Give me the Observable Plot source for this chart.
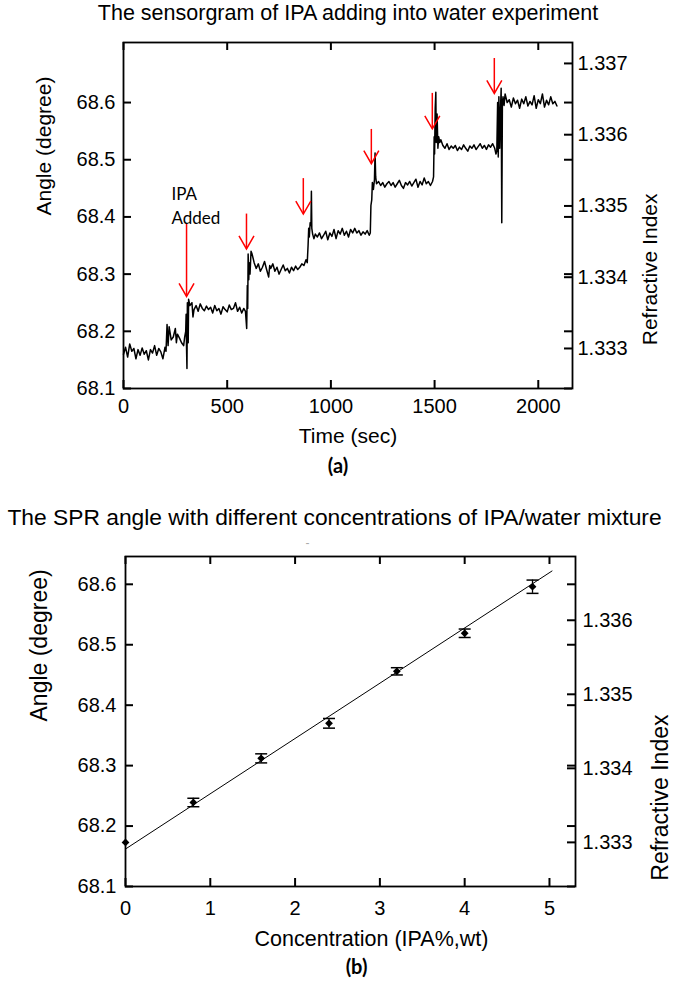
<!DOCTYPE html>
<html><head><meta charset="utf-8">
<script src="https://cdn.jsdelivr.net/npm/d3@7"></script>
<script src="https://cdn.jsdelivr.net/npm/@observablehq/plot@0.6"></script>
<style>body{margin:0;background:#fff} #chart svg{display:block}</style>
</head><body><div id="chart"></div>
<script>
// ---------- Chart (a) data ----------
const titleA = "The sensorgram of IPA adding into water experiment";
const xLabelA = "Time (sec)";
const yLabel = "Angle (degree)";
const y2Label = "Refractive Index";
const captionA = "(a)";
const xDomainA = [0, 2165];
const yDomainA = [68.1, 68.705];
const xTicksA = [0, 500, 1000, 1500, 2000];
const angleTicks = [68.1, 68.2, 68.3, 68.4, 68.5, 68.6];
const riTicksA = [1.333, 1.334, 1.335, 1.336, 1.337];
const riBaseAngleA = 68.170;   // angle aligned with 1.333 on the right axis
const riStepAngleA = 0.1246;   // angle span of 0.001 RI
const sensorgram = [
[0,68.160],[10,68.172],[20,68.155],[30,68.178],[40,68.165],[50,68.170],[60,68.152],[70,68.168],[80,68.158],[90,68.171],
[100,68.160],[110,68.166],[120,68.150],[130,68.168],[140,68.162],[150,68.175],[160,68.158],[170,68.170],[180,68.164],[190,68.152],
[200,68.172],[205,68.165],[210,68.212],[215,68.175],[220,68.208],[230,68.185],[240,68.190],[250,68.205],[255,68.180],[260,68.195],
[270,68.188],[280,68.180],[290,68.175],[295,68.190],[300,68.200],[302,68.230],[304,68.170],[306,68.135],[308,68.250],[312,68.180],
[314,68.256],[320,68.245],[330,68.250],[335,68.225],[340,68.238],[350,68.245],[360,68.235],[370,68.248],[380,68.240],[390,68.236],
[400,68.244],[410,68.238],[420,68.242],[430,68.232],[440,68.245],[450,68.236],[460,68.240],[470,68.230],[480,68.243],[490,68.238],
[500,68.234],[510,68.246],[520,68.238],[530,68.240],[540,68.250],[550,68.235],[560,68.242],[570,68.232],[580,68.240],[588,68.235],
[594,68.205],[597,68.280],[599,68.240],[601,68.335],[604,68.290],[606,68.320],[610,68.300],[615,68.340],[620,68.335],[630,68.320],
[640,68.310],[650,68.318],[660,68.305],[670,68.312],[680,68.322],[690,68.308],[700,68.295],[705,68.315],[710,68.310],[720,68.318],
[730,68.305],[740,68.312],[750,68.300],[760,68.308],[770,68.316],[780,68.306],[790,68.310],[800,68.302],[810,68.312],[820,68.306],
[830,68.314],[840,68.308],[850,68.312],[860,68.318],[870,68.315],[880,68.325],[886,68.320],[890,68.350],[893,68.380],[896,68.365],
[900,68.390],[904,68.385],[906,68.445],[908,68.380],[912,68.370],[918,68.362],[925,68.370],[935,68.365],[945,68.372],[955,68.362],
[965,68.368],[975,68.375],[985,68.360],[995,68.372],[1005,68.366],[1015,68.378],[1025,68.362],[1035,68.376],[1045,68.370],[1055,68.380],
[1065,68.368],[1075,68.375],[1085,68.365],[1095,68.378],[1105,68.372],[1115,68.380],[1125,68.372],[1135,68.376],[1145,68.368],[1155,68.374],
[1165,68.370],[1175,68.376],[1185,68.368],[1190,68.372],[1193,68.420],[1197,68.430],[1200,68.460],[1205,68.448],[1210,68.465],[1213,68.512],
[1216,68.470],[1220,68.458],[1230,68.462],[1240,68.455],[1250,68.460],[1260,68.452],[1270,68.458],[1280,68.462],[1290,68.455],[1300,68.460],
[1310,68.452],[1320,68.458],[1330,68.464],[1340,68.455],[1350,68.450],[1360,68.460],[1370,68.456],[1380,68.462],[1390,68.454],[1400,68.460],
[1410,68.466],[1420,68.452],[1430,68.462],[1440,68.456],[1450,68.468],[1460,68.458],[1470,68.462],[1480,68.455],[1490,68.462],[1495,68.470],
[1498,68.540],[1500,68.510],[1503,68.590],[1506,68.618],[1508,68.530],[1512,68.580],[1516,68.520],[1520,68.540],[1525,68.530],[1530,68.535],
[1540,68.525],[1550,68.520],[1560,68.528],[1570,68.518],[1580,68.524],[1590,68.520],[1600,68.525],[1610,68.516],[1620,68.522],[1630,68.518],
[1640,68.526],[1650,68.520],[1660,68.515],[1670,68.524],[1680,68.520],[1690,68.526],[1700,68.518],[1710,68.523],[1720,68.528],[1730,68.520],
[1740,68.525],[1750,68.518],[1760,68.526],[1770,68.522],[1780,68.528],[1790,68.520],[1796,68.510],[1800,68.515],[1804,68.600],[1807,68.505],
[1810,68.610],[1814,68.520],[1818,68.590],[1821,68.625],[1824,68.390],[1827,68.600],[1830,68.610],[1835,68.595],[1840,68.615],[1850,68.600],
[1860,68.605],[1870,68.592],[1880,68.608],[1890,68.598],[1900,68.604],[1910,68.590],[1920,68.606],[1930,68.598],[1940,68.610],[1950,68.594],
[1960,68.602],[1970,68.596],[1980,68.612],[1990,68.590],[2000,68.605],[2010,68.598],[2020,68.615],[2030,68.592],[2040,68.604],[2050,68.596],
[2060,68.610],[2070,68.598],[2080,68.602],[2090,68.594]
];
const arrowT   = [304, 593, 867, 1195, 1489, 1788];
const arrowTop = [68.388, 68.405, 68.467, 68.553, 68.616, 68.677];
const arrowTip = [68.261, 68.344, 68.405, 68.493, 68.554, 68.616];
const annotation = {t: 231, angle: 68.46, text: "IPA\nAdded"};

// ---------- Chart (b) data ----------
const titleB = "The SPR angle with different concentrations of IPA/water mixture";
const xLabelB = "Concentration (IPA%,wt)";
const captionB = "(b)";
const xDomainB = [0, 5.307];
const yDomainB = [68.1, 68.646];
const xTicksB = [0, 1, 2, 3, 4, 5];
const riTicksB = [1.333, 1.334, 1.335, 1.336];
const riBaseAngleB = 68.173;
const riStepAngleB = 0.1225;
const conc   = [0, 0.8, 1.6, 2.4, 3.2, 4.0, 4.8];
const angleB = [68.173, 68.239, 68.312, 68.370, 68.456, 68.519, 68.596];
const errB   = [0, 0.007, 0.0075, 0.008, 0.006, 0.007, 0.011];
const fitC     = [0, 5.03];
const fitAngle = [68.162, 68.622];

// ---------- helpers ----------
const font = "'Liberation Sans', Arial, Helvetica, sans-serif";
const capFont = "Lato, 'Noto Sans', sans-serif";
const fmt1 = d3.format(".1f");
const fmt3 = d3.format(".3f");
const TL = 8;
const vee = {draw(ctx) { ctx.moveTo(-7.5, -13); ctx.lineTo(0, 0); ctx.lineTo(7.5, -13); }};
const cap = {draw(ctx) { ctx.moveTo(-6, 0); ctx.lineTo(6, 0); }};

// inward tick marks on all four sides of the frame
function frameTicks(xTicks, yTicks, y2Ticks, plotW, plotH) {
  const s = {stroke: "#000", strokeWidth: 2};
  return [
    Plot.tickX(xTicks, {x: d => d, insetTop: plotH - TL, ...s}),
    Plot.tickX(xTicks, {x: d => d, insetBottom: plotH - TL, ...s}),
    Plot.tickY(yTicks, {y: d => d, insetRight: plotW - TL, ...s}),
    Plot.tickY(yTicks, {y: d => d, insetLeft: plotW - TL, ...s}),
    Plot.tickY(y2Ticks, {y: d => d, insetLeft: plotW - TL, ...s})
  ];
}

const riToA = ri => riBaseAngleA + (ri - riTicksA[0]) / 0.001 * riStepAngleA;
const aToRiA = a => riTicksA[0] + (a - riBaseAngleA) / riStepAngleA * 0.001;
const riToB = ri => riBaseAngleB + (ri - riTicksB[0]) / 0.001 * riStepAngleB;
const aToRiB = a => riTicksB[0] + (a - riBaseAngleB) / riStepAngleB * 0.001;

const arrowsA = arrowT.map((t, i) => ({t, top: arrowTop[i], tip: arrowTip[i]}));
const lineA = sensorgram.map(([t, a]) => ({t, a}));
const riAnglesA = riTicksA.map(riToA);

const WA = 675, HA = 490, mA = {t: 42, b: 102, l: 123, r: 103};
const plotA = Plot.plot({
  width: WA, height: HA,
  marginTop: mA.t, marginBottom: mA.b, marginLeft: mA.l, marginRight: mA.r,
  style: {fontFamily: font, fontSize: "20px", color: "#000", background: "#fff", overflow: "visible"},
  x: {domain: xDomainA},
  y: {domain: yDomainA},
  marks: [
    Plot.axisX({ticks: xTicksA, tickSize: 0, tickPadding: 10, tickFormat: d => String(d), label: null, fontSize: 20}),
    Plot.axisY({ticks: angleTicks, tickSize: 0, tickPadding: 8, tickFormat: fmt1, label: null, fontSize: 20}),
    Plot.axisY({anchor: "right", ticks: riAnglesA, tickSize: 0, tickPadding: 5, tickFormat: d => fmt3(aToRiA(d)), label: null, fontSize: 20}),
    Plot.frame({stroke: "#000", strokeWidth: 1.8}),
    ...frameTicks(xTicksA, angleTicks, riAnglesA, WA - mA.l - mA.r, HA - mA.t - mA.b),
    Plot.line(lineA, {x: "t", y: "a", stroke: "#000", strokeWidth: 1.5}),
    Plot.ruleX(arrowsA, {x: "t", y1: "top", y2: "tip", stroke: "#ff0000", strokeWidth: 1.5}),
    Plot.dot(arrowsA, {x: "t", y: "tip", symbol: vee, r: 5, stroke: "#ff0000", fill: "none", strokeWidth: 1.5}),
    Plot.text([annotation], {x: "t", y: "angle", text: "text", textAnchor: "start", lineAnchor: "top", lineHeight: 1.41, fontFamily: capFont, fontSize: 17, fill: "#000"}),
    Plot.text([titleA], {text: d => d, frameAnchor: "top", dy: -22.5, lineAnchor: "bottom", fontSize: 21.5}),
    Plot.text([yLabel], {text: d => d, frameAnchor: "left", rotate: -90, dx: -87, lineAnchor: "top", fontSize: 21}),
    Plot.text([y2Label], {text: d => d, frameAnchor: "right", rotate: -90, dx: 84, dy: -22, lineAnchor: "bottom", fontSize: 21}),
    Plot.text([xLabelA], {text: d => d, frameAnchor: "bottom", dy: 40, lineAnchor: "top", fontSize: 21}),
    Plot.text([captionA], {text: d => d, frameAnchor: "bottom", dx: -10, dy: 78, lineAnchor: "middle", fontFamily: capFont, fontWeight: "bold", fontSize: 20})
  ]
});

const ptsB = conc.map((c, i) => ({c, a: angleB[i], e: errB[i]}));
const barsB = ptsB.filter(d => d.e > 0);
const capsB = barsB.flatMap(d => [{c: d.c, a: d.a - d.e}, {c: d.c, a: d.a + d.e}]);
const fitB = fitC.map((c, i) => ({c, a: fitAngle[i]}));
const riAnglesB = riTicksB.map(riToB);

const WB = 675, HB = 495, mB = {t: 66, b: 99, l: 125, r: 100};
const plotB = Plot.plot({
  width: WB, height: HB,
  marginTop: mB.t, marginBottom: mB.b, marginLeft: mB.l, marginRight: mB.r,
  style: {fontFamily: font, fontSize: "20px", color: "#000", background: "#fff", overflow: "visible"},
  x: {domain: xDomainB},
  y: {domain: yDomainB},
  marks: [
    Plot.axisX({ticks: xTicksB, tickSize: 0, tickPadding: 14, tickFormat: d => String(d), label: null, fontSize: 20}),
    Plot.axisY({ticks: angleTicks, tickSize: 0, tickPadding: 9, tickFormat: fmt1, label: null, fontSize: 20}),
    Plot.axisY({anchor: "right", ticks: riAnglesB, tickSize: 0, tickPadding: 7, tickFormat: d => fmt3(aToRiB(d)), label: null, fontSize: 20}),
    Plot.frame({stroke: "#000", strokeWidth: 1.8}),
    ...frameTicks(xTicksB, angleTicks, riAnglesB, WB - mB.l - mB.r, HB - mB.t - mB.b),
    Plot.line(fitB, {x: "c", y: "a", stroke: "#000", strokeWidth: 1}),
    Plot.ruleX(barsB, {x: "c", y1: d => d.a - d.e, y2: d => d.a + d.e, stroke: "#000", strokeWidth: 1.3}),
    Plot.dot(capsB, {x: "c", y: "a", symbol: cap, r: 5, stroke: "#000", fill: "none", strokeWidth: 1.5}),
    Plot.dot(ptsB, {x: "c", y: "a", symbol: "diamond2", r: 3.5, fill: "#000", stroke: "none"}),
    Plot.text([titleB], {text: d => d, frameAnchor: "top", dx: -16, dy: -32, lineAnchor: "bottom", fontSize: 22.8}),
    Plot.text(["-"], {text: d => d, frameAnchor: "top", dx: -43, dy: -13, lineAnchor: "middle", fontSize: 12, fill: "#aaa"}),
    Plot.text([yLabel], {text: d => d, frameAnchor: "left", rotate: -90, dx: -95, lineAnchor: "top", fontSize: 23}),
    Plot.text([y2Label], {text: d => d, frameAnchor: "right", rotate: -90, dx: 92, dy: -7, lineAnchor: "bottom", fontSize: 23}),
    Plot.text([xLabelB], {text: d => d, frameAnchor: "bottom", dx: 21, dy: 44, lineAnchor: "top", fontSize: 21.5}),
    Plot.text([captionB], {text: d => d, frameAnchor: "bottom", dx: 6, dy: 81, lineAnchor: "middle", fontFamily: capFont, fontWeight: "bold", fontSize: 20})
  ]
});

document.getElementById("chart").append(plotA, plotB);
</script></body></html>
